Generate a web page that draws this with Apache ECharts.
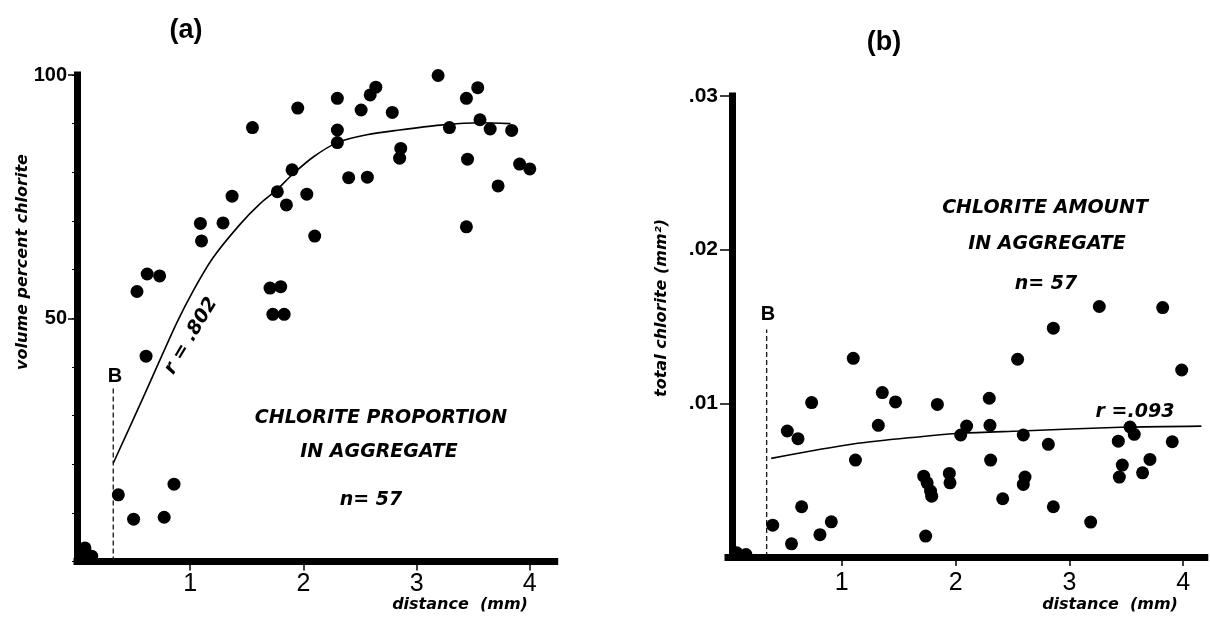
<!DOCTYPE html>
<html lang="en">
<head>
<meta charset="UTF-8">
<title>chlorite vs distance</title>
<script src="https://cdn.jsdelivr.net/npm/echarts@6/dist/echarts.min.js"></script>
<style>
    html, body { margin: 0; background: #fff; }
    #main { width: 1210px; height: 623px; }
</style>
</head>
<body>
<div id="main"></div>
<script>
// (a) volume percent chlorite
var distA = [0.04, 0.07, 0.13, 0.365, 0.50, 0.53, 0.61, 0.62, 0.73, 0.77, 0.857,
    1.09, 1.10, 1.29, 1.37, 1.55, 1.705, 1.73, 1.77, 1.80, 1.83, 1.85, 1.90, 1.95, 2.03, 2.10,
    2.30, 2.30, 2.30, 2.40, 2.51, 2.565, 2.59, 2.64, 2.785, 2.85, 2.86,
    3.19, 3.29, 3.44, 3.44, 3.45, 3.54, 3.56, 3.65, 3.72, 3.84, 3.91, 4.0];
var pctA = [0.9, 2.8, 1.1, 13.7, 8.7, 55.5, 42.2, 59.1, 58.7, 9.1, 15.9,
    69.5, 65.9, 69.6, 75.1, 89.2, 56.2, 50.8, 76.0, 56.5, 50.8, 73.3, 80.5, 93.2, 75.5, 66.9,
    95.2, 88.7, 86.1, 78.9, 92.8, 79.0, 95.9, 97.5, 92.3, 82.9, 84.9,
    99.9, 89.2, 95.2, 68.8, 82.7, 97.4, 90.8, 88.9, 77.2, 88.6, 81.7, 80.7];
// fitted curve (a)
var fitDistA = [0.32, 0.6, 0.88, 1.03, 1.2, 1.44, 1.62, 1.77, 1.9, 2.09, 2.3, 2.56, 2.85, 3.21, 3.56, 3.83];
var fitPctA = [20.2, 34.5, 49, 55.8, 62.4, 69.3, 73.6, 76.5, 79.5, 83.2, 86.1, 87.7, 88.7, 89.7, 90.2, 90];

// (b) total chlorite (mm2)
var distB = [0.076, 0.158, 0.393, 0.521, 0.558, 0.615, 0.647, 0.735, 0.808, 0.908,
    1.101, 1.12, 1.321, 1.356, 1.472, 1.72, 1.737, 1.75, 1.78, 1.79, 1.84, 1.945, 1.951,
    2.045, 2.097, 2.296, 2.302, 2.308, 2.414, 2.545, 2.595, 2.595, 2.61, 2.815, 2.859, 2.859,
    3.187, 3.263, 3.43, 3.439, 3.465, 3.533, 3.57, 3.643, 3.708, 3.82, 3.904, 3.987];
var areaB = [0.00027, 0.00016, 0.00207, 0.0082, 0.00086, 0.0077, 0.00327, 0.01005, 0.00145, 0.00229,
    0.01293, 0.00631, 0.00857, 0.0107, 0.01009, 0.00526, 0.00136, 0.00483, 0.00429, 0.00396, 0.00993, 0.00544, 0.00483,
    0.00794, 0.00852, 0.01033, 0.00857, 0.00631, 0.00379, 0.01287, 0.00794, 0.00472, 0.0052, 0.00733, 0.01489, 0.00327,
    0.00227, 0.0163, 0.00754, 0.0052, 0.00598, 0.00846, 0.00798, 0.00548, 0.00635, 0.01623, 0.0075, 0.01217];
var fitDistB = [0.38, 1.1, 1.69, 2.04, 2.57, 3.45, 4.16];
var fitAreaB = [0.00642, 0.00735, 0.00783, 0.00805, 0.0082, 0.00844, 0.00852];

// B boundary lines
var boundA = [0.32, 35.7];
var boundB = [0.34, 0.0148];

var xTicks = [1, 2, 3, 4];
var yTicksA = [50, 100];
var yTicksB = [0.01, 0.02, 0.03];

function zip(xs, ys) {
    return xs.map(function (x, i) { return [x, ys[i]]; });
}

var chart = echarts.init(document.getElementById('main'));

var boldItal = 'italic bold 19px "DejaVu Sans"';
var axisFont = 'italic bold 16px "DejaVu Sans"';

function txt(x, y, s, font, rot) {
    return {
        type: 'text', x: x, y: y, rotation: rot || 0,
        style: { text: s, x: 0, y: 0, font: font, fill: '#000',
            align: 'center', verticalAlign: 'middle', textAlign: 'center', textVerticalAlign: 'middle' }
    };
}

function xAxisDef(idx, max, off) {
    return {
        gridIndex: idx, type: 'value', min: 0, max: max, offset: off,
        axisLine: { lineStyle: { color: '#000', width: 7, cap: 'square' } },
        axisTick: { customValues: xTicks, length: 9, lineStyle: { color: '#000', width: 1.5 } },
        axisLabel: { customValues: xTicks, margin: 10, color: '#000', fontSize: 25,
            fontFamily: 'Liberation Sans' },
        splitLine: { show: false }
    };
}

var option = {
    animation: false,
    backgroundColor: '#fff',
    grid: [
        { left: 77, top: 75, width: 477.7, height: 486.5 },
        { left: 728, top: 96, width: 476.8, height: 461 }
    ],
    xAxis: [xAxisDef(0, 4.22, 0), xAxisDef(1, 4.19, 4)],
    yAxis: [
        {
            gridIndex: 0, type: 'value', min: 0, max: 100, position: 'left',
            axisLine: { show: true, lineStyle: { color: '#000', width: 7, cap: 'square' } },
            axisTick: { show: true, customValues: yTicksA, length: 9, lineStyle: { color: '#000', width: 1.5 } },
            axisLabel: { customValues: yTicksA, margin: 10, color: '#000', fontSize: 20,
                fontWeight: 'bold', fontFamily: 'Liberation Sans' },
            splitLine: { show: false }
        },
        {
            // small notches every 10
            gridIndex: 0, type: 'value', min: 0, max: 100, interval: 10, position: 'left',
            axisLine: { show: false },
            axisTick: { show: true, length: 5, lineStyle: { color: '#000', width: 1 } },
            axisLabel: { show: false },
            splitLine: { show: false }
        },
        {
            gridIndex: 1, type: 'value', min: 0, max: 0.03, offset: -4, position: 'left',
            axisLine: { show: true, lineStyle: { color: '#000', width: 7, cap: 'square' } },
            axisTick: { show: true, customValues: yTicksB, length: 12, lineStyle: { color: '#000', width: 1.5 } },
            axisLabel: { customValues: yTicksB, margin: 14, color: '#000', fontSize: 21,
                fontWeight: 'bold', fontFamily: 'Liberation Sans',
                formatter: function (v) { return '.0' + Math.round(v * 100); } },
            splitLine: { show: false }
        }
    ],
    series: [
        {
            type: 'scatter', xAxisIndex: 0, yAxisIndex: 0, symbolSize: 13,
            itemStyle: { color: '#000', opacity: 1 }, data: zip(distA, pctA)
        },
        {
            type: 'line', xAxisIndex: 0, yAxisIndex: 0, smooth: 0.3, showSymbol: false,
            lineStyle: { color: '#000', width: 1.6 }, data: zip(fitDistA, fitPctA)
        },
        {
            type: 'line', xAxisIndex: 0, yAxisIndex: 0, showSymbol: false,
            lineStyle: { color: '#000', width: 1.2, type: [5, 3] },
            data: [[boundA[0], 0], boundA]
        },
        {
            type: 'scatter', xAxisIndex: 1, yAxisIndex: 2, symbolSize: 13,
            itemStyle: { color: '#000', opacity: 1 }, data: zip(distB, areaB)
        },
        {
            type: 'line', xAxisIndex: 1, yAxisIndex: 2, smooth: 0.3, showSymbol: false,
            lineStyle: { color: '#000', width: 1.6 }, data: zip(fitDistB, fitAreaB)
        },
        {
            type: 'line', xAxisIndex: 1, yAxisIndex: 2, showSymbol: false,
            lineStyle: { color: '#000', width: 1.2, type: [5, 3] },
            data: [[boundB[0], 0], boundB]
        }
    ],
    graphic: [
        txt(186, 31, '(a)', 'bold 27px "Liberation Sans"'),
        txt(884, 43, '(b)', 'bold 27px "Liberation Sans"'),
        txt(115, 376, 'B', 'bold 20px "Liberation Sans"'),
        txt(768, 314, 'B', 'bold 20px "Liberation Sans"'),
        txt(191, 336, 'r = .802', boldItal, 59 * Math.PI / 180),
        txt(381, 418, 'CHLORITE PROPORTION', boldItal),
        txt(379, 452, 'IN AGGREGATE', boldItal),
        txt(371, 500, 'n= 57', boldItal),
        txt(1045, 208, 'CHLORITE AMOUNT', boldItal),
        txt(1047, 244, 'IN AGGREGATE', boldItal),
        txt(1046, 284, 'n= 57', boldItal),
        txt(1135, 412, 'r =.093', boldItal),
        txt(23, 262, 'volume percent chlorite', axisFont, Math.PI / 2),
        txt(662, 308, 'total chlorite (mm²)', axisFont, Math.PI / 2),
        txt(460, 605, 'distance  (mm)', axisFont),
        txt(1110, 605, 'distance  (mm)', axisFont)
    ]
};

chart.setOption(option);
</script>
</body>
</html>
